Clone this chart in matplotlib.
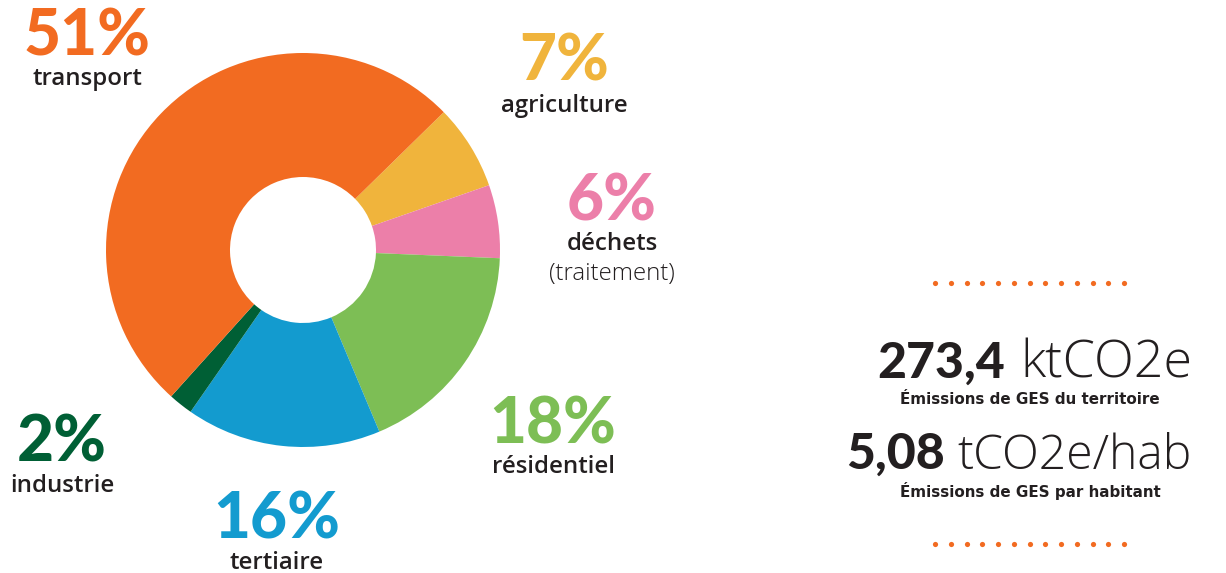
import matplotlib
matplotlib.use("Agg")
import matplotlib.pyplot as plt

W, H = 1226, 573
categories = ["agriculture", "déchets", "résidentiel", "tertiaire", "industrie", "transport"]
values = [7, 6, 18, 16, 2, 51]
colors = ["#F0B43C", "#EC7FA9", "#7DBE55", "#139BCF", "#005F35", "#F26B21"]
pct_labels = ["7%", "6%", "18%", "16%", "2%", "51%"]
sub_labels = ["agriculture", "déchets", "résidentiel", "tertiaire", "industrie", "transport"]

total_value = "273,4"
total_unit = "ktCO2e"
total_caption = "Émissions de GES du territoire"
per_hab_value = "5,08"
per_hab_unit = "tCO2e/hab"
per_hab_caption = "Émissions de GES par habitant"

plt.rcParams['font.family'] = ['Lato', 'DejaVu Sans']
fig = plt.figure(figsize=(W / 100, H / 100), dpi=100)

cx, cy, R = 303, 250, 197
ax = fig.add_axes([(cx - R) / W, (H - cy - R) / H, 2 * R / W, 2 * R / H])
ax.pie(values, colors=colors, startangle=44.4, counterclock=False,
       radius=1, wedgeprops=dict(width=1 - 73 / 197, linewidth=0))
ax.set_xlim(-1, 1)
ax.set_ylim(-1, 1)
ax.axis('off')

fig.canvas.draw()
r = fig.canvas.get_renderer()

def fit(s, target, **kw):
    t = fig.text(0, 0, s, fontsize=20, **kw)
    w = t.get_window_extent(r).width
    t.remove()
    return 20 * target / w

def ft(x, y, s, **kw):
    return fig.text(x / W, 1 - y / H, s, ha='center', va='center', **kw)

dark = "#231F20"
lab_font = dict(family=['Open Sans', 'DejaVu Sans'], fontweight='semibold')
light_font = dict(family=['Open Sans', 'DejaVu Sans'], fontweight='light')
cap_font = dict(family=['DejaVu Sans'], fontweight='bold')
lab_size = fit("transport", 109, **lab_font)

pos = {
    "transport": ((87, 37), (87, 79)),
    "agriculture": ((564, 62), (564, 106)),
    "déchets": ((612, 202), (612, 244)),
    "résidentiel": ((553, 425), (553, 467)),
    "industrie": ((62, 443), (62, 486)),
    "tertiaire": ((277, 520), (277, 563)),
}
for cat, col, p, s in zip(categories, colors, pct_labels, sub_labels):
    (px, py), (sx, sy) = pos[cat]
    ft(px, py, p, color=col, fontsize=46, fontweight='black')
    ft(sx, sy, s, color=dark, fontsize=lab_size, **lab_font)
ft(612, 274, "(traitement)", color=dark, fontsize=lab_size, **light_font)

def mixed(xb_end, y, bold, light, x1, wl):
    sl = fit(light, wl, **light_font)
    fig.text(xb_end / W, 1 - y / H, bold, ha='right', va='baseline', color=dark,
             fontsize=36, fontweight='black')
    fig.text(x1 / W, 1 - y / H, light, ha='left', va='baseline', color=dark,
             fontsize=sl, **light_font)

mixed(1005, 378, total_value, total_unit, 1020, 172)
cap_size = fit(total_caption, 261, **cap_font)
fig.text(1030 / W, 1 - 404 / H, total_caption, ha='center', va='baseline',
         color=dark, fontsize=cap_size, **cap_font)
mixed(945, 469, per_hab_value, per_hab_unit, 957, 235)
fig.text(1030 / W, 1 - 497 / H, per_hab_caption, ha='center', va='baseline',
         color=dark, fontsize=cap_size, **cap_font)

ov = fig.add_axes([0, 0, 1, 1])
ov.set_xlim(0, W)
ov.set_ylim(H, 0)
ov.axis('off')
ov.patch.set_alpha(0)
for yy in (283, 544):
    xs = [935 + i * 15.75 for i in range(13)]
    ov.scatter(xs, [yy] * 13, s=14, color="#F26B21", linewidths=0)

fig.savefig("out.png", dpi=100)
